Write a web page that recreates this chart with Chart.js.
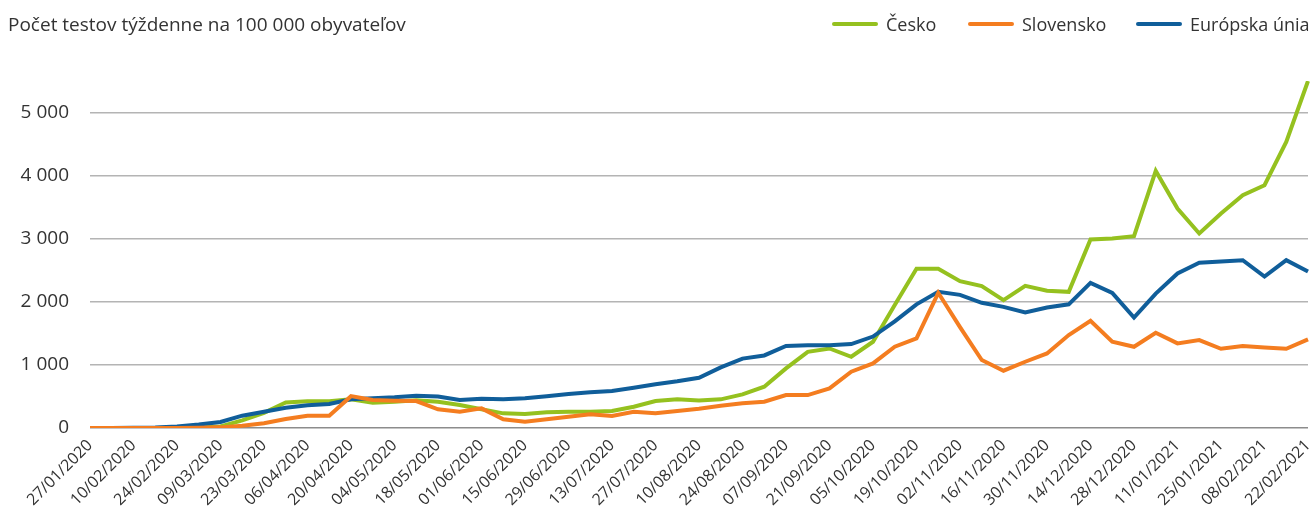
<!DOCTYPE html>
<html>
<head>
<meta charset="utf-8">
<script src="https://cdn.jsdelivr.net/npm/chart.js@4/dist/chart.umd.min.js"></script>
<style>
  html, body { margin: 0; padding: 0; background: #fff; }
  #wrap { position: relative; width: 1312px; height: 532px; }
  .txt { position: absolute; font-family: "Open Sans", sans-serif; color: #333; white-space: nowrap; line-height: 24px; }
  #title { left: 8px; top: 12px; font-size: 19px; }
  .leg { position: absolute; top: 12px; height: 24px; display: flex; align-items: center; }
  .leg .ln { width: 46px; height: 4px; border-radius: 2px; margin-right: 8px; }
  .leg span { font-family: "Open Sans", sans-serif; font-size: 18px; color: #333; line-height: 24px; white-space: nowrap; }
  canvas { display: block; }
</style>
</head>
<body>
<div id="wrap">
  <div id="title" class="txt">Počet testov týždenne na 100 000 obyvateľov</div>
  <div id="legend"></div>
  <canvas id="c" width="1312" height="532"></canvas>
</div>
<script>
const categories = [
  "27/01/2020","03/02/2020","10/02/2020","17/02/2020","24/02/2020","02/03/2020","09/03/2020","16/03/2020","23/03/2020","30/03/2020",
  "06/04/2020","13/04/2020","20/04/2020","27/04/2020","04/05/2020","11/05/2020","18/05/2020","25/05/2020","01/06/2020","08/06/2020",
  "15/06/2020","22/06/2020","29/06/2020","06/07/2020","13/07/2020","20/07/2020","27/07/2020","03/08/2020","10/08/2020","17/08/2020",
  "24/08/2020","31/08/2020","07/09/2020","14/09/2020","21/09/2020","28/09/2020","05/10/2020","12/10/2020","19/10/2020","26/10/2020",
  "02/11/2020","09/11/2020","16/11/2020","23/11/2020","30/11/2020","07/12/2020","14/12/2020","21/12/2020","28/12/2020","04/01/2021",
  "11/01/2021","18/01/2021","25/01/2021","01/02/2021","08/02/2021","15/02/2021","22/02/2021"
];
const cesko = [0,0,0,0,3,8,25,120,240,405,425,425,455,400,415,440,415,365,296,232,222,250,258,258,269,338,427,454,435,454,533,654,945,1208,1261,1129,1367,1948,2525,2525,2328,2249,2027,2254,2175,2158,2988,3004,3040,4075,3478,3083,3400,3690,3848,4534,5500];
const slovensko = [0,0,0,0,0,3,10,37,74,142,195,195,505,443,433,427,296,258,311,137,100,137,180,216,190,258,232,269,306,354,391,417,522,522,628,892,1024,1288,1420,2143,1600,1077,908,1050,1182,1473,1700,1367,1288,1510,1341,1394,1256,1298,1277,1256,1404];
const eu = [0,0,2,8,25,55,95,195,258,320,360,380,455,470,486,510,500,445,464,454,470,505,538,565,586,638,695,740,795,960,1100,1150,1300,1310,1310,1330,1450,1690,1960,2160,2110,1985,1920,1830,1910,1960,2300,2140,1750,2130,2450,2620,2640,2660,2400,2660,2480];
const yTicks = [0,1000,2000,3000,4000,5000];
const seriesNames = ["Česko","Slovensko","Európska únia"];

const FONT = '"Open Sans", sans-serif';
const colors = ["#95c11f", "#f47d20", "#105e9a"];
const legendLeft = [832, 968, 1136];

// HTML legend (real text)
const legendEl = document.getElementById('legend');
seriesNames.forEach((name, i) => {
  const item = document.createElement('div');
  item.className = 'leg';
  item.style.left = legendLeft[i] + 'px';
  const ln = document.createElement('div');
  ln.className = 'ln';
  ln.style.background = colors[i];
  const sp = document.createElement('span');
  sp.textContent = name;
  item.appendChild(ln);
  item.appendChild(sp);
  legendEl.appendChild(item);
});

function fmt(v) { return String(v).replace(/\B(?=(\d{3})+(?!\d))/g, " "); }

new Chart(document.getElementById('c'), {
  type: 'line',
  data: {
    labels: categories,
    datasets: [
      { label: seriesNames[0], data: cesko, borderColor: colors[0], backgroundColor: colors[0], order: 2 },
      { label: seriesNames[1], data: slovensko, borderColor: colors[1], backgroundColor: colors[1], order: 0 },
      { label: seriesNames[2], data: eu, borderColor: colors[2], backgroundColor: colors[2], order: 1 }
    ]
  },
  options: {
    responsive: false,
    animation: false,
    devicePixelRatio: 1,
    elements: {
      line: { borderWidth: 4, tension: 0, borderJoinStyle: 'miter' },
      point: { radius: 0, hoverRadius: 0 }
    },
    layout: { padding: { left: 0, right: 4, top: 81, bottom: 0 } },
    plugins: {
      tooltip: { enabled: false },
      legend: { display: false }
    },
    scales: {
      x: {
        type: 'category',
        offset: false,
        grid: { display: false, drawTicks: false },
        border: { display: false },
        afterFit: (s) => { s.paddingLeft = 0; s.paddingRight = 0; s.height = 104; },
        ticks: {
          autoSkip: false,
          maxRotation: 45,
          minRotation: 45,
          padding: 8,
          color: '#333',
          font: { family: FONT, size: 16 },
          callback: function(val, idx) { return idx % 2 === 0 ? this.getLabelForValue(val) : null; }
        }
      },
      y: {
        min: 0,
        max: 5500,
        grid: {
          drawTicks: false,
          lineWidth: 1.5,
          color: (ctx) => ctx.tick && ctx.tick.value === 0 ? '#8c8c8c' : '#b4b4b4'
        },
        border: { display: false },
        afterBuildTicks: (axis) => { axis.ticks = yTicks.map(v => ({ value: v })); },
        afterFit: (s) => { s.width = 90; s.paddingTop = 0; s.paddingBottom = 0; },
        ticks: {
          padding: 21,
          color: '#333',
          font: { family: FONT, size: 19 },
          callback: (v) => fmt(v)
        }
      }
    }
  }
});
</script>
</body>
</html>
